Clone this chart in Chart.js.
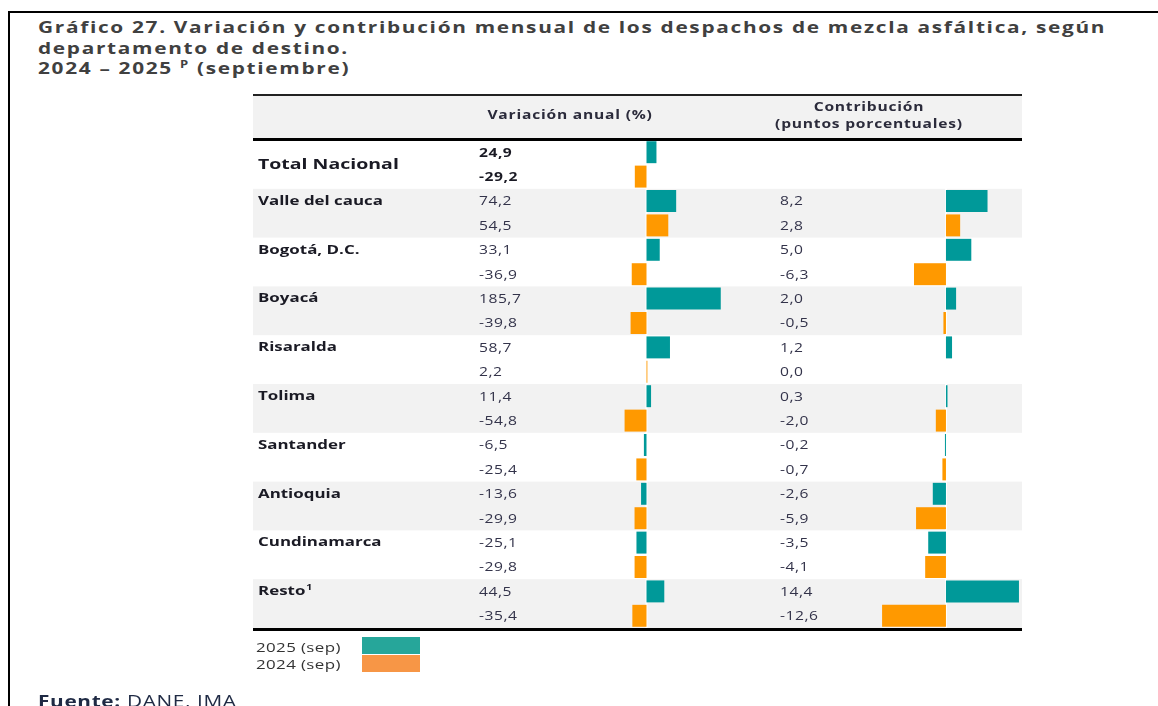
<!DOCTYPE html>
<html lang="es">
<head>
<meta charset="UTF-8">
<title>Gráfico 27. Despachos de mezcla asfáltica</title>
<script src="https://cdn.jsdelivr.net/npm/chart.js@4.4.1/dist/chart.umd.min.js"></script>
<style>
    body {
        margin: 0;
        width: 1158px;
        height: 706px;
        overflow: hidden;
        position: relative;
        background: #fff;
        font-family: 'Open Sans', sans-serif;
    }
    .frame {
        position: absolute;
        left: 8px;
        top: 11px;
        right: -4px;
        bottom: -4px;
        border-left: 2px solid #000;
        border-top: 2px solid #000;
    }
    /* the source picture is stretched sideways, so is the text here */
    .wide {
        position: absolute;
        transform: scaleX(1.3);
        transform-origin: 0 0;
        white-space: nowrap;
    }
    .title {
        left: 38px;
        top: 17px;
        font-size: 16px;
        font-weight: bold;
        line-height: 20.5px;
        color: #404040;
        letter-spacing: 1.3px;
    }
    .title sup { font-size: 10px; line-height: 0; }
    canvas { position: absolute; left: 0; top: 0; }
    .legend-text {
        left: 256px;
        top: 639px;
        font-size: 13px;
        line-height: 17px;
        color: #333;
        letter-spacing: 0.3px;
    }
    .box {
        position: absolute;
        left: 362px;
        width: 58px;
        height: 17px;
    }
    .source {
        left: 38px;
        top: 690px;
        font-size: 16px;
        color: #1f2a44;
        letter-spacing: 0.5px;
    }
</style>
</head>
<body>
<div class="frame"></div>
<div class="wide title">
    Gráfico 27. Variación y contribución mensual de los despachos de mezcla asfáltica, según<br>
    departamento de destino.<br>
    2024 – 2025 <sup>P</sup> (septiembre)
</div>
<canvas id="chart" width="1158" height="706"></canvas>
<div class="wide legend-text">2025 (sep)<br>2024 (sep)</div>
<div class="box" style="top:637px; background:#26a69a"></div>
<div class="box" style="top:655px; background:#f79646"></div>
<div class="wide source"><b>Fuente:</b> DANE, IMA</div>

<script>
    // Datos (coma decimal en la etiqueta)
    const departments = ['Total Nacional', 'Valle del cauca', 'Bogotá, D.C.', 'Boyacá', 'Risaralda',
        'Tolima', 'Santander', 'Antioquia', 'Cundinamarca', 'Resto'];
    const variation2025 = [24.9, 74.2, 33.1, 185.7, 58.7, 11.4, -6.5, -13.6, -25.1, 44.5];
    const variation2024 = [-29.2, 54.5, -36.9, -39.8, 2.2, -54.8, -25.4, -29.9, -29.8, -35.4];
    const contribution2025 = [null, 8.2, 5.0, 2.0, 1.2, 0.3, -0.2, -2.6, -3.5, 14.4];
    const contribution2024 = [null, 2.8, -6.3, -0.5, 0.0, -2.0, -0.7, -5.9, -4.1, -12.6];

    const teal = '#009999';
    const orange = '#ff9900';
    const STRETCH = 1.3;

    // each department gets two sub-rows: 2025 then 2024
    const rowLabels = departments.flatMap(d => [d + ' 2025', d + ' 2024']);
    const onlyEven = arr => arr.flatMap(v => [v, null]);
    const onlyOdd = arr => arr.flatMap(v => [null, v]);

    const fmt = v => v.toFixed(1).replace('.', ',');

    function wideText(ctx, text, x, y) {
        ctx.save();
        ctx.translate(x, y);
        ctx.scale(STRETCH, 1);
        ctx.fillText(text, 0, 0);
        ctx.restore();
    }

    const tablePlugin = {
        id: 'table',
        beforeDatasetsDraw(chart) {
            const ctx = chart.ctx;
            const area = chart.chartArea;
            const y = chart.scales.y;
            const half = (y.getPixelForValue(1) - y.getPixelForValue(0)) / 2;
            ctx.save();
            // header band
            ctx.fillStyle = '#f2f2f2';
            ctx.fillRect(area.left, 96, area.right - area.left, area.top - 96);
            // alternate bands per department
            departments.forEach((d, i) => {
                if (i % 2 === 1) {
                    const top = y.getPixelForValue(2 * i) - half;
                    const bottom = y.getPixelForValue(2 * i + 1) + half;
                    ctx.fillRect(area.left, top, area.right - area.left, bottom - top);
                }
            });
            // white gap at both zero lines
            ctx.fillStyle = '#fff';
            [chart.scales.x, chart.scales.x2].forEach(s => {
                ctx.fillRect(s.getPixelForValue(0) - 1, area.top, 2, area.bottom - area.top);
            });
            ctx.restore();
        },
        afterDatasetsDraw(chart) {
            const ctx = chart.ctx;
            const area = chart.chartArea;
            const y = chart.scales.y;
            ctx.save();
            // rules
            ctx.fillStyle = '#222';
            ctx.fillRect(area.left, 94, area.right - area.left, 2);
            ctx.fillStyle = '#000';
            ctx.fillRect(area.left, area.top - 2, area.right - area.left, 3);
            ctx.fillRect(area.left, area.bottom, area.right - area.left, 3);

            ctx.textBaseline = 'middle';
            // column headers
            ctx.fillStyle = '#2b2b3b';
            ctx.font = 'bold 12px "Open Sans"';
            ctx.letterSpacing = '0.6px';
            ctx.textAlign = 'center';
            wideText(ctx, 'Variación anual (%)', 570, 116);
            wideText(ctx, 'Contribución', 869, 108);
            wideText(ctx, '(puntos porcentuales)', 869, 125);

            departments.forEach((d, i) => {
                const y0 = y.getPixelForValue(2 * i);
                const y1 = y.getPixelForValue(2 * i + 1);
                const total = i === 0;
                ctx.textAlign = 'left';
                ctx.fillStyle = '#1a1a24';
                ctx.letterSpacing = '0px';
                if (total) {
                    ctx.font = 'bold 15px "Open Sans"';
                    wideText(ctx, d, 258, (y0 + y1) / 2);
                } else {
                    ctx.font = 'bold 13px "Open Sans"';
                    wideText(ctx, d, 258, y0);
                    if (d === 'Resto') {
                        const w = ctx.measureText(d).width * STRETCH;
                        ctx.font = 'bold 8px "Open Sans"';
                        wideText(ctx, '1', 259 + w, y0 - 4);
                    }
                }
                ctx.letterSpacing = '0.4px';
                ctx.font = (total ? 'bold ' : '') + '12px "Open Sans"';
                ctx.fillStyle = total ? '#1a1a24' : '#33334a';
                wideText(ctx, fmt(variation2025[i]), 479, y0 + 1);
                wideText(ctx, fmt(variation2024[i]), 479, y1 + 1);
                if (contribution2025[i] !== null) {
                    wideText(ctx, fmt(contribution2025[i]), 780, y0 + 1);
                    wideText(ctx, fmt(contribution2024[i]), 780, y1 + 1);
                }
            });
            ctx.restore();
        }
    };

    new Chart(document.getElementById('chart'), {
        type: 'bar',
        data: {
            labels: rowLabels,
            datasets: [{
                label: 'Variación 2025 (sep)',
                data: onlyEven(variation2025),
                backgroundColor: teal,
                xAxisID: 'x'
            }, {
                label: 'Variación 2024 (sep)',
                data: onlyOdd(variation2024),
                backgroundColor: orange,
                xAxisID: 'x'
            }, {
                label: 'Contribución 2025 (sep)',
                data: onlyEven(contribution2025),
                backgroundColor: teal,
                xAxisID: 'x2'
            }, {
                label: 'Contribución 2024 (sep)',
                data: onlyOdd(contribution2024),
                backgroundColor: orange,
                xAxisID: 'x2'
            }]
        },
        options: {
            indexAxis: 'y',
            responsive: false,
            animation: false,
            layout: {
                padding: { left: 253, right: 136, top: 140, bottom: 78 }
            },
            datasets: {
                bar: {
                    grouped: false,
                    barPercentage: 0.9,
                    categoryPercentage: 1,
                    borderWidth: 0
                }
            },
            plugins: {
                legend: { display: false },
                tooltip: { enabled: false }
            },
            scales: {
                y: { display: false, offset: true },
                x: { type: 'linear', display: false, min: -984, max: 939 },
                x2: { type: 'linear', display: false, position: 'bottom', min: -136.7, max: 15 }
            }
        },
        plugins: [tablePlugin]
    });
</script>
</body>
</html>
